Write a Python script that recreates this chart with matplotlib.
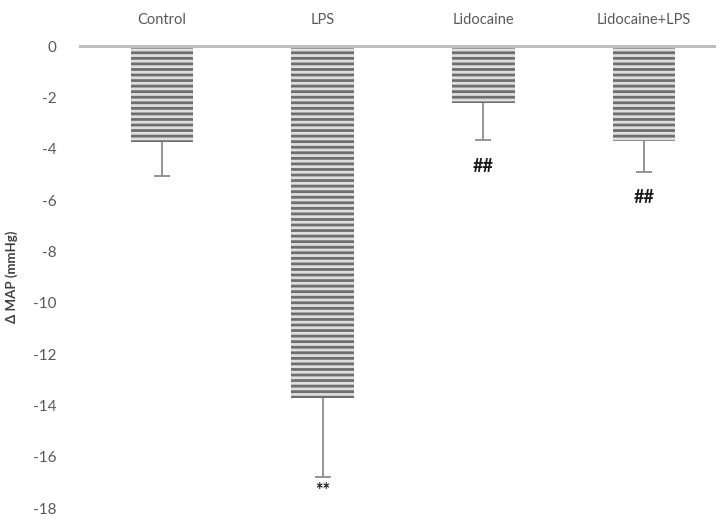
import matplotlib.pyplot as plt

groups = ["Control", "LPS", "Lidocaine", "Lidocaine+LPS"]
delta_map = [-3.75, -13.7, -2.2, -3.7]
sem = [1.3, 3.1, 1.45, 1.2]
marks = ["", "**", "##", "##"]
mark_y = [0, -17.3, -4.7, -5.9]

plt.rcParams["font.family"] = ["Lato", "DejaVu Sans"]
plt.rcParams["axes.unicode_minus"] = False
plt.rcParams["hatch.linewidth"] = 2.0
plt.rcParams["hatch.color"] = "#6e6e6e"

fig = plt.figure(figsize=(7.16, 5.19), dpi=100)
ax = fig.add_axes([0.112, 0.021, 0.886, 0.89])

x = list(range(len(groups)))
ax.bar(x, delta_map, width=0.39, color="#dedede", edgecolor="#6e6e6e",
       hatch="---", linewidth=0)
# lower error bars only
lows = [v - e for v, e in zip(delta_map, sem)]
ax.vlines(x, lows, delta_map, color="#8c8c8c", linewidth=1.3)
ax.plot(x, lows, linestyle="none", marker="_", markersize=11,
        markeredgewidth=1.3, color="#8c8c8c")

for i, m in enumerate(marks):
    if m:
        ax.text(i, mark_y[i], m, ha="center", va="center", fontsize=13,
                fontweight="bold", color="#1a1a1a")

ax.set_xlim(-0.51, 3.44)
ax.set_ylim(-18, 0)
ax.set_yticks(range(-18, 1, 2))
ax.tick_params(axis="y", length=0, pad=17, labelsize=11, labelcolor="#595959")
ax.xaxis.tick_top()
ax.set_xticks(x)
ax.set_xticklabels(groups)
ax.tick_params(axis="x", length=0, pad=14, labelsize=10.5, labelcolor="#595959")

for s in ["left", "right", "bottom"]:
    ax.spines[s].set_visible(False)
ax.spines["top"].set_color("#bfbfbf")
ax.spines["top"].set_linewidth(2.2)

ax.set_ylabel("Δ MAP (mmHg)", fontsize=9.5, fontweight="bold", color="#404040")
ax.yaxis.set_label_coords(-0.098, 0.5)

fig.savefig("out.png", dpi=100)
